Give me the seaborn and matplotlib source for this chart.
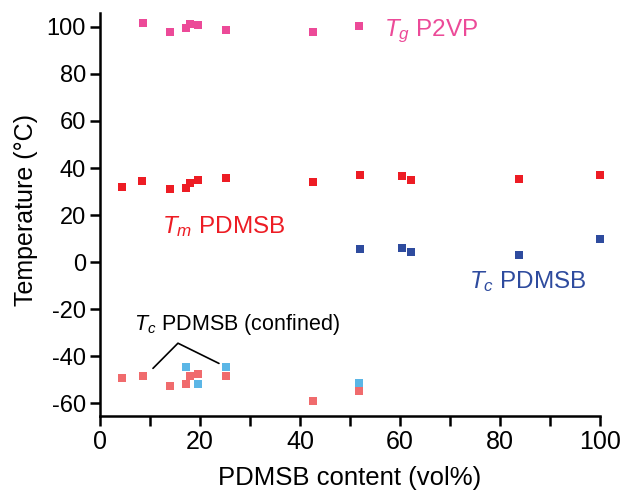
import numpy as np
import pandas as pd
import seaborn as sns
import matplotlib.pyplot as plt
from matplotlib.ticker import MultipleLocator

# data (PDMSB content in vol%, temperature in degC)
tg_x = [8.7, 14.0, 17.2, 18.0, 19.7, 25.3, 42.7, 51.8]
tg_y = [101.8, 97.9, 99.4, 101.3, 100.9, 98.6, 97.7, 100.3]

tm_x = [4.5, 8.5, 14.0, 17.2, 18.0, 19.7, 25.3, 42.7, 52.1, 60.4, 62.3, 83.9, 100.0]
tm_y = [31.8, 34.5, 31.2, 31.5, 33.5, 34.9, 35.7, 34.0, 36.9, 36.5, 34.9, 35.4, 36.9]

tc_x = [52.1, 60.4, 62.3, 83.9, 100.0]
tc_y = [5.6, 5.8, 4.3, 2.8, 9.8]

tcc_blue_x = [17.2, 19.7, 25.3, 51.8]
tcc_blue_y = [-44.6, -52.0, -44.6, -51.4]

tcc_red_x = [4.5, 8.7, 14.0, 17.2, 18.0, 19.7, 25.3, 42.7, 51.8]
tcc_red_y = [-49.2, -48.5, -52.8, -52.0, -48.4, -47.8, -48.4, -59.0, -54.8]

c_pink = "#ec4a98"
c_red = "#ed1c24"
c_blue = "#2e4b9e"
c_salmon = "#f06b6d"
c_lblue = "#5bb6e6"

sns.set_style("ticks")
plt.rcParams["font.family"] = ["Liberation Sans", "DejaVu Sans"]
plt.rcParams["mathtext.fontset"] = "custom"
plt.rcParams["mathtext.it"] = "Liberation Sans:italic"
plt.rcParams["mathtext.rm"] = "Liberation Sans"
plt.rcParams["axes.unicode_minus"] = False

fig = plt.figure(figsize=(6.21, 4.93), dpi=100)
ax = fig.add_axes([0.161, 0.156, 0.805, 0.818])

series = [
    (tcc_blue_x, tcc_blue_y, c_lblue),
    (tcc_red_x, tcc_red_y, c_salmon),
    (tg_x, tg_y, c_pink),
    (tm_x, tm_y, c_red),
    (tc_x, tc_y, c_blue),
]
for xs, ys, col in series:
    df = pd.DataFrame({"x": xs, "y": ys})
    sns.scatterplot(data=df, x="x", y="y", ax=ax, marker="s", s=40,
                    color=col, linewidth=0, clip_on=False)

# labels
ax.text(56.8, 96.2, r"$T_g$ P2VP", color=c_pink, fontsize=17.5, va="baseline")
ax.text(12.5, 12.2, r"$T_m$ PDMSB", color=c_red, fontsize=17.5, va="baseline")
ax.text(73.8, -11.2, r"$T_c$ PDMSB", color=c_blue, fontsize=17.5, va="baseline")
ax.text(6.9, -28.9, r"$T_c$ PDMSB (confined)", color="black", fontsize=15.5, va="baseline")
ax.plot([10.6, 15.6, 23.8], [-45.2, -34.5, -43.1], color="black", lw=1.2)

ax.set_xlim(0, 100)
ax.set_ylim(-65.5, 106)
ax.xaxis.set_major_locator(MultipleLocator(20))
ax.xaxis.set_minor_locator(MultipleLocator(10))
ax.yaxis.set_major_locator(MultipleLocator(20))

ax.set_xlabel("PDMSB content (vol%)", fontsize=18.5, va="baseline", color="black")
ax.xaxis.set_label_coords(0.5, -0.172)
ax.set_ylabel("Temperature (°C)", fontsize=18, color="black")
ax.yaxis.set_label_coords(-0.124, 0.51)

sns.despine(ax=ax)
for sp in ["left", "bottom"]:
    ax.spines[sp].set_linewidth(1.8)
    ax.spines[sp].set_color("black")
ax.tick_params(axis="both", which="both", direction="out", length=7,
               width=1.8, color="black", labelcolor="black", pad=3)
ax.tick_params(axis="x", labelsize=18)
ax.tick_params(axis="y", labelsize=17)

fig.savefig("out.png", dpi=100)
